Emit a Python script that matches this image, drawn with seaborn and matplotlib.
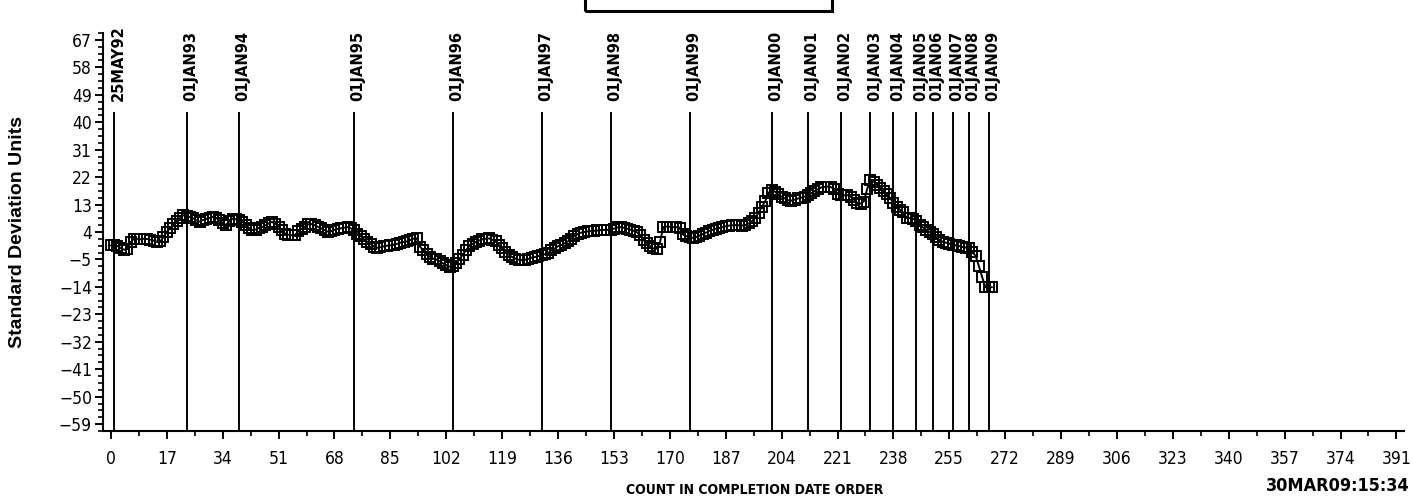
import matplotlib
matplotlib.use("Agg")
import matplotlib.pyplot as plt
import seaborn as sns
import pandas as pd
from matplotlib.ticker import MultipleLocator, FixedLocator
from matplotlib.patches import Rectangle
from matplotlib import font_manager

# ---------------- data ----------------
count = list(range(269))
std_units = [
    -0.4, -0.4, -0.6, -1.3, -1.8, -1.6, 0.6, 1.8, 1.8, 1.6,
    1.8, 1.7, 1.5, 1.2, 0.8, 0.9, 2.4, 4.0, 5.3, 6.6,
    7.6, 8.5, 9.5, 9.3, 8.9, 8.5, 7.8, 7.4, 7.9, 8.3,
    8.6, 9.0, 8.6, 7.8, 7.0, 6.3, 7.5, 8.4, 8.2, 7.9,
    7.3, 6.4, 5.3, 4.6, 4.8, 5.3, 5.6, 6.2, 6.8, 7.3,
    6.7, 5.8, 4.5, 3.5, 3.1, 2.9, 3.0, 4.2, 5.0, 5.8,
    6.5, 6.6, 6.2, 5.7, 5.2, 4.6, 4.1, 4.3, 4.7, 5.1,
    5.2, 5.4, 5.6, 5.2, 4.5, 3.5, 2.6, 1.6, 0.8, 0.0,
    -0.8, -1.2, -1.0, -0.7, -0.5, -0.4, -0.2, 0.1, 0.5, 0.7,
    0.9, 1.3, 1.8, 1.9, -0.8, -2.0, -3.2, -4.1, -4.7, -5.0,
    -5.6, -6.3, -6.9, -7.4, -7.3, -6.2, -4.9, -3.5, -2.0, -0.6,
    0.1, 0.7, 1.2, 1.6, 1.8, 1.9, 1.5, 0.9, -0.3, -1.3,
    -2.5, -3.4, -4.2, -4.7, -5.1, -5.2, -5.1, -4.8, -4.4, -4.2,
    -3.9, -3.6, -3.3, -2.9, -2.0, -1.4, -0.6, -0.3, 0.3, 0.9,
    1.8, 2.7, 3.3, 3.8, 4.0, 4.2, 4.3, 4.4, 4.5, 4.6,
    4.7, 4.7, 4.8, 5.1, 5.5, 5.6, 5.4, 5.1, 4.8, 4.4,
    3.9, 2.9, 1.3, 0.4, -0.6, -1.4, -1.5, 0.6, 5.6, 5.8,
    5.7, 5.6, 5.6, 5.4, 3.2, 2.6, 2.3, 2.0, 2.3, 2.8,
    3.3, 3.8, 4.3, 4.7, 5.1, 5.3, 5.6, 5.9, 6.1, 6.2,
    6.3, 6.2, 6.1, 6.3, 6.8, 7.6, 8.6, 10.3, 12.2, 14.1,
    16.8, 17.8, 17.2, 16.3, 15.6, 15.0, 14.4, 14.3, 14.6, 15.0,
    15.3, 15.6, 16.0, 16.7, 17.4, 18.0, 18.6, 18.8, 18.9, 18.7,
    18.1, 16.6, 16.1, 16.0, 16.1, 15.6, 14.6, 13.6, 13.3, 14.0,
    18.0, 21.2, 20.5, 19.5, 18.4, 17.4, 16.4, 15.1, 13.5, 12.2,
    11.3, 10.4, 8.6, 8.6, 8.4, 7.5, 6.4, 5.5, 4.7, 4.0,
    3.3, 2.3, 1.4, 0.8, 0.5, 0.2, -0.2, -0.4, -0.6, -0.9,
    -1.1, -1.3, -2.6, -3.8, -7.2, -10.8, -14.1, -14.1, -14.1,
]
ref_counts = [1, 23, 39, 74, 104, 131, 152, 176, 201, 212, 222, 231,
              238, 245, 250, 256, 261, 267]
ref_labels = ["25MAY92", "01JAN93", "01JAN94", "01JAN95", "01JAN96",
              "01JAN97", "01JAN98", "01JAN99", "01JAN00", "01JAN01",
              "01JAN02", "01JAN03", "01JAN04", "01JAN05", "01JAN06",
              "01JAN07", "01JAN08", "01JAN09"]
y_ticks = list(range(-59, 68, 9))
x_ticks = list(range(0, 392, 17))
y_label = "Standard Deviation Units"
x_label = "COUNT IN COMPLETION DATE ORDER"
stamp = "30MAR09:15:34"

# ---------------- style ----------------
sns.set_style("white")
plt.rcParams["font.family"] = ["DejaVu Sans"]
plt.rcParams["axes.unicode_minus"] = True

cond = font_manager.FontProperties(family="DejaVu Sans", stretch="condensed",
                                   size=12.5)

df = pd.DataFrame({"count": count, "sd": std_units})

fig = plt.figure(figsize=(14.13, 5.01), dpi=100)
ax = fig.add_axes([0.07289, 0.13972, 0.92074, 0.79441])

ylo, yhi = -61.26, 69.26
ax.vlines(ref_counts, ylo, 43.5, color="black", linewidth=1.4, zorder=1)

sns.lineplot(data=df, x="count", y="sd", ax=ax, color="black",
             linewidth=1.4, marker="s", markersize=7,
             markerfacecolor="none", markeredgecolor="black",
             markeredgewidth=1.4, zorder=3)

for c, lab in zip(ref_counts, ref_labels):
    ax.text(c + 1.2, 47.0, lab, rotation=90, ha="center", va="bottom",
            fontfamily="DejaVu Sans", fontweight="bold", fontsize=10.5,
            color="black")

ax.set_xlim(-2.4, 393.3)
ax.set_ylim(ylo, yhi)
ax.xaxis.set_major_locator(FixedLocator(x_ticks))
ax.xaxis.set_minor_locator(MultipleLocator(8.5))
ax.yaxis.set_major_locator(FixedLocator(y_ticks))
ax.yaxis.set_minor_locator(FixedLocator([v / 4 for v in range(-245, 278, 9)]))
ax.set_xlabel("")
ax.set_ylabel("")

for s in ["top", "right"]:
    ax.spines[s].set_visible(False)
for s in ["left", "bottom"]:
    ax.spines[s].set_linewidth(1.5)
    ax.spines[s].set_color("black")

ax.tick_params(axis="both", which="major", direction="out", length=6,
               width=1.4, color="black", labelcolor="black")
ax.tick_params(axis="both", which="minor", direction="out", length=3.5,
               width=1.2, color="black")
ax.tick_params(axis="x", which="major", pad=8)
ax.tick_params(axis="y", which="major", pad=2)
ax.tick_params(axis="both", which="both", bottom=True, left=True)
for lab in ax.get_xticklabels() + ax.get_yticklabels():
    lab.set_fontproperties(cond)

fig.text(18 / 1413, 1 - 232 / 501, y_label, rotation=90, ha="center",
         va="center", fontfamily="Liberation Sans", fontweight="bold",
         fontsize=14, color="black")
fig.text(754.5 / 1413, 1 - 490 / 501, x_label, ha="center", va="center",
         fontfamily="DejaVu Sans", fontstretch="condensed",
         fontweight="bold", fontsize=10, color="black")
fig.text(1410 / 1413, 1 - 486 / 501, stamp, ha="right", va="center",
         fontfamily="DejaVu Sans", fontstretch="condensed",
         fontweight="bold", fontsize=13, color="black")

fig.patches.append(Rectangle((585 / 1413, 1 - 11 / 501), 247 / 1413, 0.06,
                             transform=fig.transFigure, fill=False,
                             edgecolor="black", linewidth=2.2))

fig.savefig("out.png", dpi=100)
